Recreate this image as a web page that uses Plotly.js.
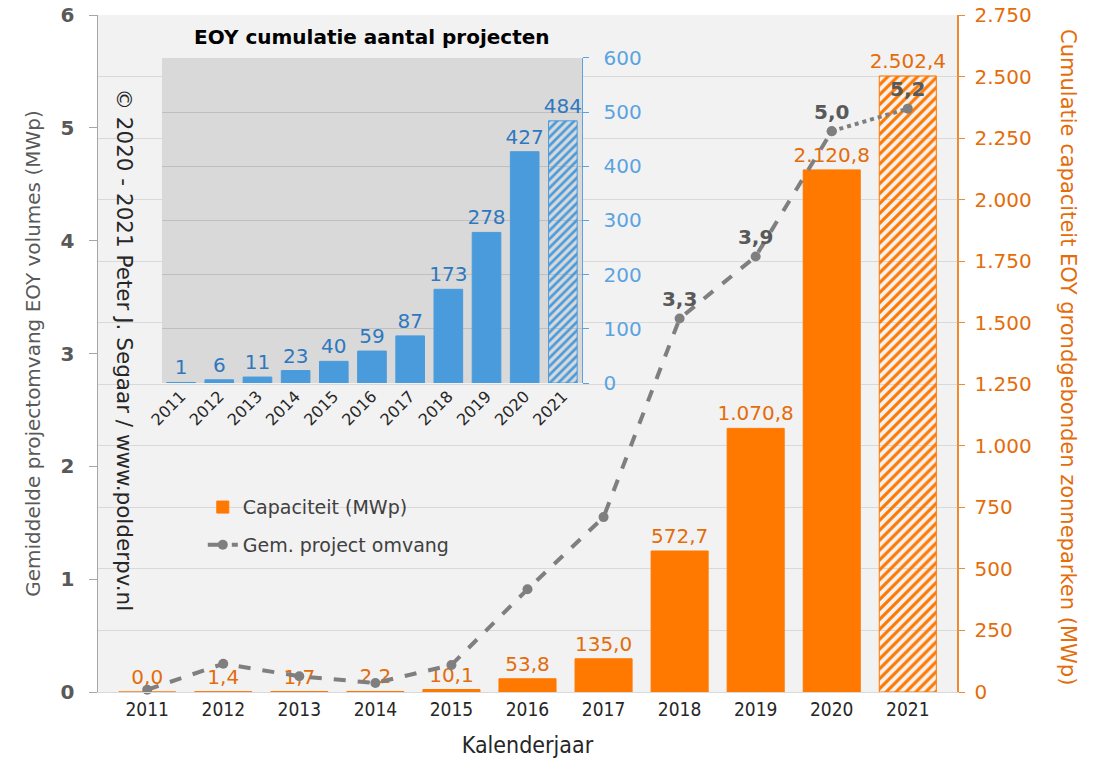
<!DOCTYPE html>
<html>
<head>
<meta charset="utf-8">
<script src="https://cdn.plot.ly/plotly-3.0.1.min.js"></script>
<style>
  body { margin: 0; background: #fff; }
  #chart { width: 1096px; height: 769px; }
</style>
</head>
<body>
<div id="chart"></div>
<script>
// jaren (categorieën)
const years = ["2011", "2012", "2013", "2014", "2015", "2016", "2017", "2018", "2019", "2020", "2021"];
// cumulatieve capaciteit EOY (MWp)
const capacity = [0.02, 1.4, 1.7, 2.2, 10.1, 53.8, 135.0, 572.7, 1070.8, 2120.8, 2502.4];
// cumulatief aantal projecten EOY
const projects = [1, 6, 11, 23, 40, 59, 87, 173, 278, 427, 484];
// gemiddelde projectomvang (MWp)
const avgSize = [0.02, 0.25, 0.14, 0.08, 0.24, 0.91, 1.55, 3.31, 3.86, 4.97, 5.17];
// alleen deze jaren krijgen een label op de lijn
const labelYears = ["2018", "2019", "2020", "2021"];

const orange = "#ff7800";
const orangeText = "#e46c0a";
const blue = "#4a9bdc";
const blueTick = "#5ba3e0";
const gray = "#7f7f7f";
const base = "DejaVu Sans, Verdana, sans-serif";
const narrow = "DejaVu Sans Condensed, Liberation Sans Narrow, sans-serif";

// 2021 is een prognose -> gearceerd
const hatch = years.map(y => y === "2021" ? "/" : "");
const fmt = v => v.toFixed(1).replace(".", ",");

const lastIdx = years.length - 1;
const lineX = years.slice(0, lastIdx);
const lineY = avgSize.slice(0, lastIdx);
const lineText = lineX.map((y, i) => labelYears.includes(y) ? fmt(lineY[i]) : "");
const dotX = years.slice(lastIdx - 1);
const dotY = avgSize.slice(lastIdx - 1);
const dotText = ["", fmt(dotY[1])];

const data = [
  {
    type: "bar", x: years, y: capacity, xaxis: "x", yaxis: "y",
    name: "Capaciteit (MWp)", legendgroup: "a",
    marker: {color: orange, line: {color: orange, width: 1},
             pattern: {shape: hatch, size: 7, solidity: 0.45}},
    texttemplate: "%{y:,.1f}", textposition: "outside", cliponaxis: false,
    constraintext: "none",
    textfont: {family: base, size: 20, color: orangeText}
  },
  {
    type: "bar", x: years, y: projects, xaxis: "x2", yaxis: "y3",
    showlegend: false,
    marker: {color: blue, line: {color: blue, width: 1},
             pattern: {shape: hatch, size: 6, solidity: 0.45}},
    texttemplate: "%{y}", textposition: "outside", cliponaxis: false,
    constraintext: "none",
    textfont: {family: base, size: 20, color: "#2e78bf"}
  },
  {
    type: "scatter", mode: "lines+markers+text", x: lineX, y: lineY,
    xaxis: "x", yaxis: "y2", name: "Gem. project omvang", legendgroup: "b",
    line: {color: gray, width: 4, dash: "dash"},
    marker: {color: gray, size: 10},
    text: lineText, textposition: "top center", cliponaxis: false,
    textfont: {family: base, size: 20, color: "#595959", weight: "bold"}
  },
  {
    type: "scatter", mode: "lines+markers+text", x: dotX, y: dotY,
    xaxis: "x", yaxis: "y2", showlegend: false,
    line: {color: gray, width: 4, dash: "dot"},
    marker: {color: gray, size: 10},
    text: dotText, textposition: "top center", cliponaxis: false,
    textfont: {family: base, size: 20, color: "#595959", weight: "bold"}
  }
];

const layout = {
  width: 1096, height: 769,
  margin: {l: 98, r: 139, t: 15, b: 77},
  paper_bgcolor: "#ffffff",
  plot_bgcolor: "#d9d9d9",
  separators: ",.",
  font: {family: base, size: 20, color: "#404040"},
  bargap: 0.25,
  hovermode: false,
  xaxis: {
    type: "category", domain: [0, 1], anchor: "y",
    showline: true, linecolor: "#d9d9d9", ticks: "", automargin: false,
    tickfont: {family: narrow, size: 19, color: "#262626"},
    title: {text: "Kalenderjaar", standoff: 18,
            font: {family: narrow, size: 23, color: "#262626"}}
  },
  yaxis: {
    side: "right", range: [0, 2750], dtick: 250, tickformat: ",d",
    showgrid: true, gridcolor: "#d9d9d9", zeroline: false,
    showline: true, linecolor: "#f08a30", linewidth: 1.5,
    ticks: "outside", ticklen: 6, tickcolor: "#f08a30",
    ticklabelstandoff: 6, automargin: false,
    tickfont: {family: base, size: 20, color: orangeText}
  },
  yaxis2: {
    overlaying: "y", side: "left", range: [0, 6], dtick: 1,
    showgrid: false, zeroline: false,
    showline: true, linecolor: "#a6a6a6", linewidth: 1.5,
    ticks: "outside", ticklen: 8, tickcolor: "#a6a6a6",
    ticklabelstandoff: 10, automargin: false,
    tickfont: {family: base, size: 20, color: "#595959", weight: "bold"},
    title: {text: "Gemiddelde projectomvang EOY volumes (MWp)", standoff: 14,
            font: {family: base, size: 20, color: "#595959"}}
  },
  xaxis2: {
    type: "category", domain: [0.0745, 0.5634], anchor: "y3",
    showline: false, ticks: "", tickangle: -45, automargin: false,
    tickfont: {family: base, size: 16, color: "#262626"}
  },
  yaxis3: {
    domain: [0.4564, 0.9365], anchor: "x2", side: "right",
    range: [0, 600], dtick: 100,
    showgrid: true, gridcolor: "#bfbfbf", zeroline: false,
    showline: true, linecolor: blueTick, linewidth: 1.5,
    ticks: "outside", ticklen: 6, tickcolor: blueTick,
    ticklabelstandoff: 10, automargin: false,
    tickfont: {family: base, size: 20, color: blueTick}
  },
  legend: {
    x: 0.122, y: 0.301, xanchor: "left", yanchor: "top",
    bgcolor: "rgba(0,0,0,0)", traceorder: "grouped", tracegroupgap: 10,
    font: {family: base, size: 19, color: "#404040"}
  },
  shapes: [
    // achtergrond van het hoofddiagram (inzet houdt plot_bgcolor)
    {type: "rect", xref: "paper", yref: "paper", x0: 0, x1: 1, y0: 0, y1: 1,
     fillcolor: "#f2f2f2", line: {width: 0}, layer: "below"}
  ],
  annotations: [
    {text: "EOY cumulatie aantal projecten", xref: "paper", yref: "paper",
     x: 0.319, y: 0.967, xanchor: "center", yanchor: "middle", showarrow: false,
     font: {family: base, size: 20, color: "#000000", weight: "bold"}},
    {text: "© 2020 - 2021 Peter J. Segaar / www.polderpv.nl", xref: "paper", yref: "paper",
     x: 0.031, y: 0.505, xanchor: "center", yanchor: "middle", textangle: 90, showarrow: false,
     font: {family: base, size: 21.5, color: "#262626"}},
    {text: "Cumulatie capaciteit EOY grondgebonden zonneparken (MWp)", xref: "paper", yref: "paper",
     x: 1.129, y: 0.495, xanchor: "center", yanchor: "middle", textangle: 90, showarrow: false,
     font: {family: base, size: 21, color: orangeText}}
  ]
};

Plotly.newPlot("chart", data, layout, {displayModeBar: false, staticPlot: true});
</script>
</body>
</html>
